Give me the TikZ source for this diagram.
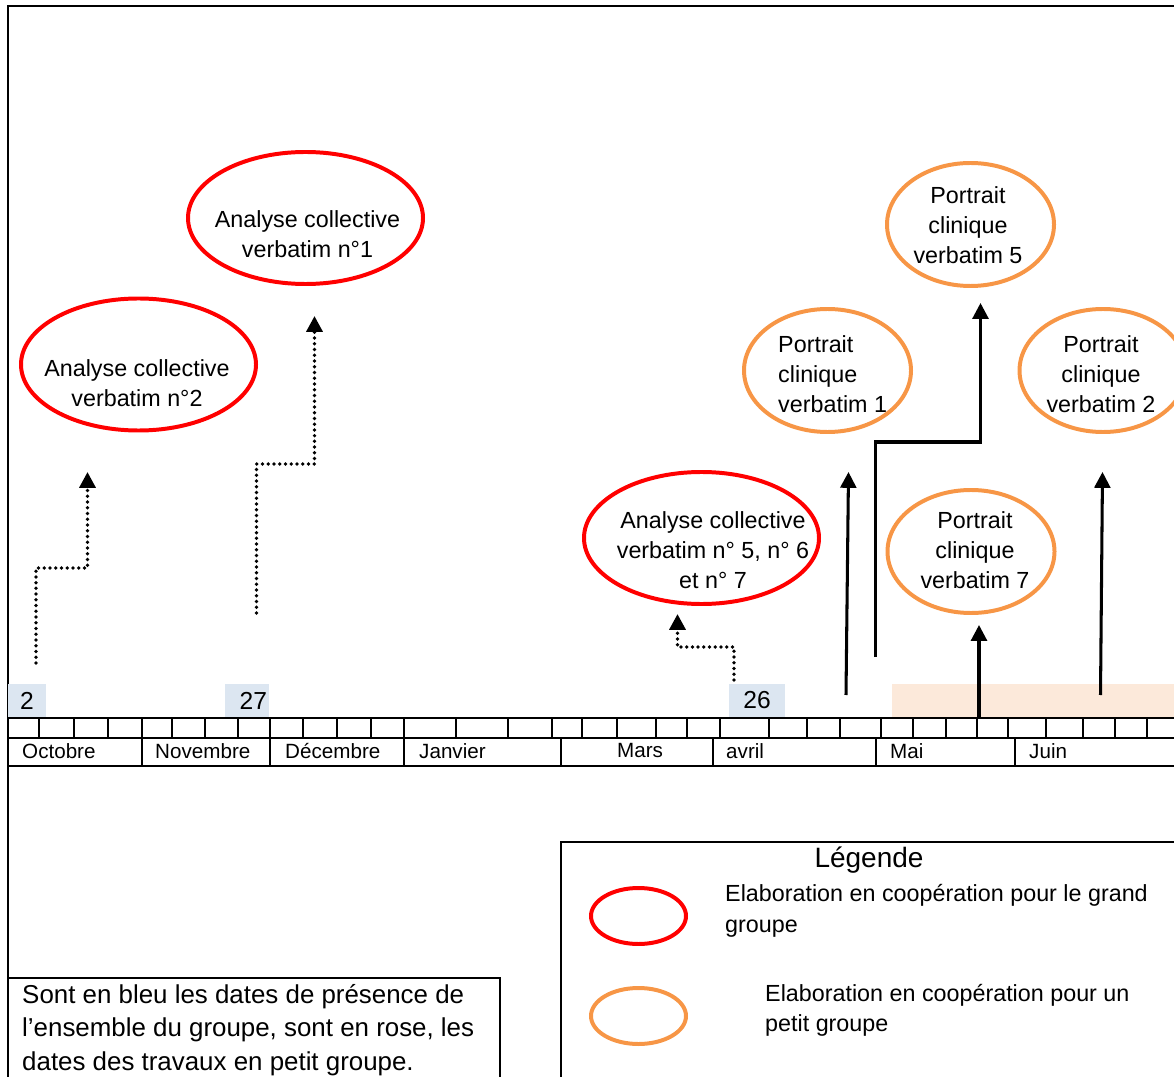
\documentclass[tikz,border=0pt]{standalone}
\usepackage{fontspec}
\setmainfont{Liberation Sans}
\usetikzlibrary{arrows.meta,shapes.geometric}

\definecolor{rouge}{HTML}{FF0000}
\definecolor{orangeclair}{HTML}{F79646}
\definecolor{bleuclair}{HTML}{DCE6F1}
\definecolor{roseclair}{HTML}{FCE9DA}

\tikzset{
    cadre/.style={line width=1.7pt},
    axe/.style={line width=1.7pt},
    graduation/.style={line width=1.4pt},
    grandovale/.style={ellipse, draw=rouge, line width=3.4pt, inner sep=0pt,
        minimum width=7.05cm, minimum height=3.96cm},
    petitovale/.style={ellipse, draw=orangeclair, line width=3.4pt, inner sep=0pt,
        minimum width=5.01cm, minimum height=3.69cm},
    legendeovale/.style={ellipse, line width=3.4pt, inner sep=0pt,
        minimum width=2.85cm, minimum height=1.68cm},
    texte/.style={align=center, inner sep=0pt, font=\fontsize{19.9}{25.6}\selectfont},
    mois/.style={anchor=west, inner sep=0pt, font=\fontsize{17.6}{21}\selectfont},
    datebox/.style={fill=bleuclair, inner sep=0pt, minimum height=0.99cm,
        font=\fontsize{21}{25}\selectfont},
    fleche/.style={line width=2.6pt, -{Triangle[width=13.5pt,length=13.5pt]}},
    pointille/.style={line width=3.2pt, line cap=round, dash pattern=on 0pt off 4.9pt,
        -{Triangle[width=13.5pt,length=13.5pt]}}
}

\begin{document}
\begin{tikzpicture}[x=0.03cm,y=-0.03cm]
    \useasboundingbox (0,0) rectangle (1174,1077);
    \clip (0,0) rectangle (1174,1077);

    % Frame
    \draw[cadre] (8,1090) -- (8,6) -- (1190,6);

    % Dates
    \fill[roseclair] (892,684) rectangle (1190,717);
    \node[datebox, minimum width=1.14cm] (d2) at (27,700.5) {2};
    \node[datebox, minimum width=1.32cm, text width=1.2cm, align=right] (d27) at (247,700.5) {27};
    \node[datebox, minimum width=1.68cm] (d26) at (757,700.5) {26};

    % Timeline
    \draw[axe] (8,718) -- (1190,718);
    \draw[axe] (8,738) -- (1190,738);
    \draw[axe] (8,766) -- (1190,766);
    \foreach \x in {39,74,108,142,172,205,238,270,303,337,371,404,456,508,552,582,
                    617,656,687,720,769,807,840,881,913,946,977,1008,1046,1083,1115,1147}
        \draw[graduation] (\x,718) -- (\x,738);
    \foreach \x in {142,270,404,561,713,876,1015}
        \draw[graduation] (\x,738) -- (\x,766);

    % Months
    \node[mois] (oct) at (22,751) {Octobre};
    \node[mois] (nov) at (155,751) {Novembre};
    \node[mois] (dec) at (285,751) {Décembre};
    \node[mois] (jan) at (419,751) {Janvier};
    \node[mois] (mar) at (617,751) {Mars};
    \node[mois] (avr) at (726,751) {avril};
    \node[mois] (mai) at (890,751) {Mai};
    \node[mois] (jui) at (1029,751) {Juin};

    % Red ellipses
    \node[grandovale] (an1) at (305.5,218) {};
    \node[texte] (an1txt) at (307.5,234) {Analyse collective\\verbatim n°1};
    \node[grandovale] (an2) at (138.5,364.5) {};
    \node[texte] (an2txt) at (137,383) {Analyse collective\\verbatim n°2};
    \node[grandovale] (an5) at (701.5,538) {};
    \node[texte] (an5txt) at (713,550.5) {Analyse collective\\verbatim n° 5, n° 6\\et n° 7};

    % Orange ellipses
    \node[petitovale] (pc5) at (970.5,224.5) {};
    \node[texte] (pc5txt) at (968,225.5) {Portrait\\clinique\\verbatim 5};
    \node[petitovale] (pc1) at (827.5,370.5) {};
    \node[texte, align=left, anchor=west] (pc1txt) at (778,374.5) {Portrait\\clinique\\verbatim 1};
    \node[petitovale] (pc2) at (1103,370.5) {};
    \node[texte] (pc2txt) at (1101,374.5) {Portrait\\clinique\\verbatim 2};
    \node[petitovale] (pc7) at (971,551.5) {};
    \node[texte] (pc7txt) at (975,550.5) {Portrait\\clinique\\verbatim 7};

    % Dotted arrows
    \coordinate (o2a) at (36,663);
    \coordinate (o2b) at (87.5,568);
    \coordinate (o2c) at (87.5,472);
    \draw[pointille] (o2a) |- (o2b) -- (o2c);
    \coordinate (n27a) at (256.5,613);
    \coordinate (n27b) at (314.5,464);
    \coordinate (n27c) at (314.5,316);
    \draw[pointille] (n27a) |- (n27b) -- (n27c);
    \coordinate (a26a) at (734,680);
    \coordinate (a26b) at (677.5,647);
    \coordinate (a26c) at (677.5,614);
    \draw[pointille] (a26a) |- (a26b) -- (a26c);

    % Solid arrows
    \coordinate (s1a) at (846,695);
    \coordinate (s1b) at (848.5,472);
    \draw[fleche] (s1a) -- (s1b);
    \coordinate (s5a) at (875.5,657);
    \coordinate (s5b) at (980.5,442);
    \coordinate (s5c) at (980.5,303);
    \draw[fleche] (s5a) |- (s5b) -- (s5c);
    \coordinate (s7a) at (979,718);
    \coordinate (s7b) at (979,625);
    \draw[fleche] (s7a) -- (s7b);
    \coordinate (s2a) at (1100.5,695);
    \coordinate (s2b) at (1102.5,472);
    \draw[fleche] (s2a) -- (s2b);

    % Legend
    \draw[cadre] (561,1090) -- (561,842) -- (1190,842);
    \node[font=\fontsize{23.9}{28}\selectfont, inner sep=0pt] (leg) at (869,860) {Légende};
    \node[legendeovale, draw=rouge] (legrouge) at (638.5,916) {};
    \node[align=left, anchor=west, inner sep=0pt, font=\fontsize{19.9}{26.5}\selectfont] (legrougetxt)
        at (725,910.5) {Elaboration en coopération pour le grand\\groupe};
    \node[legendeovale, draw=orangeclair] (legorange) at (638.5,1016) {};
    \node[align=left, anchor=west, inner sep=0pt, font=\fontsize{19.9}{25.6}\selectfont] (legorangetxt)
        at (765,1010) {Elaboration en coopération pour un\\petit groupe};

    % Note
    \draw[cadre] (8,978) -- (500,978) -- (500,1090);
    \node[align=left, anchor=west, inner sep=0pt, font=\fontsize{22.1}{28.6}\selectfont] (note)
        at (22,1030) {Sont en bleu les dates de présence de\\l’ensemble du groupe, sont en rose, les\\dates des travaux en petit groupe.};
\end{tikzpicture}
\end{document}
